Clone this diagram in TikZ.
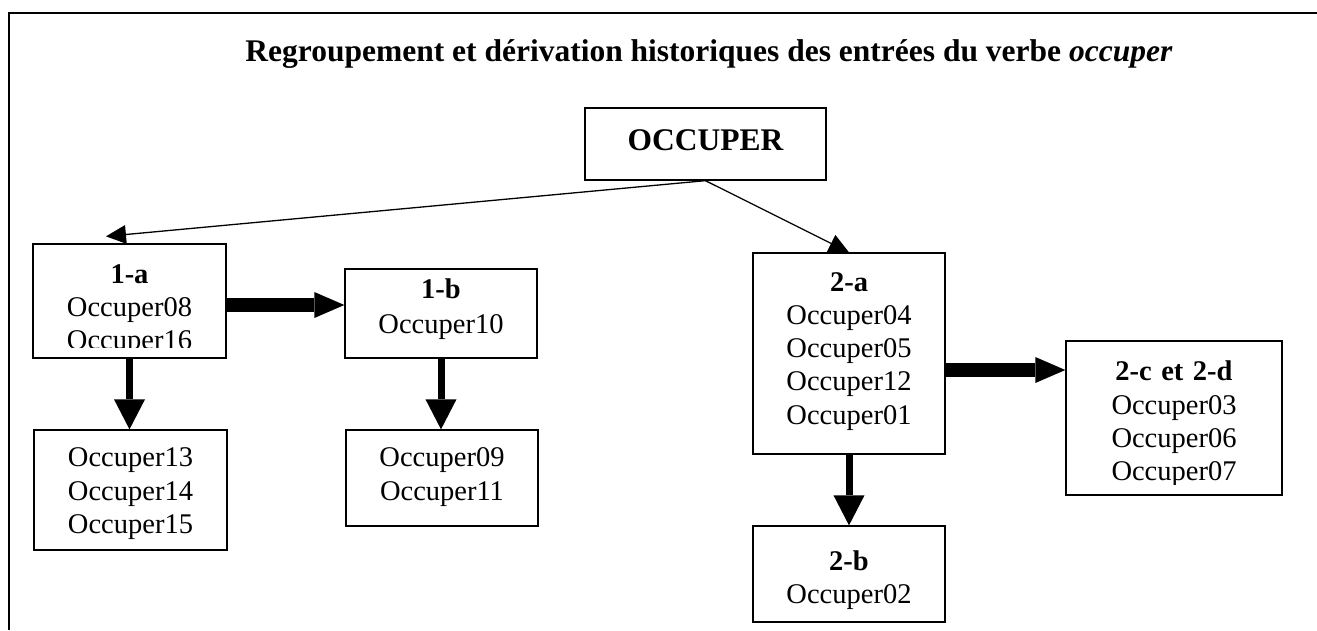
\documentclass[tikz,border=0pt]{standalone}
\usepackage{fontspec}
\setmainfont{Liberation Serif}
\usetikzlibrary{arrows.meta,calc}
\begin{document}
\begin{tikzpicture}[x=1pt,y=-1pt,
  box/.style={draw,line width=1.3pt,inner sep=0pt,rectangle},
  txt/.style={font=\fontsize{28.5}{33.3}\selectfont, align=center, text width=210pt, inner sep=0pt, anchor=base},
  big/.style={font=\bfseries\fontsize{31.5}{36}\selectfont, inner sep=0pt, anchor=base},
  thinarrow/.style={line width=1.3pt, -{Triangle[length=20pt,width=19pt,line width=0pt]}},
  vthick/.style={line width=7pt, -{Triangle[length=30pt,width=31pt,line width=0pt]}},
  hthick/.style={line width=14pt, -{Triangle[length=30pt,width=26pt,line width=0pt]}},
]
\useasboundingbox (0,0) rectangle (1317,630);
% frame
\draw[line width=1.5pt] (9,630) -- (9,13) -- (1317,13);
% title
\node[big] (title) at (709,61.5) {Regroupement et dérivation historiques des entrées du verbe \textit{occuper}};
% boxes
\node[box, minimum width=241pt, minimum height=72pt] (occ) at (705.5,144) {};
\node[big] (occt) at (705.5,150) {OCCUPER};
\node[box, minimum width=193pt, minimum height=114pt] (a1) at (129.5,301) {};
\node[box, minimum width=192pt, minimum height=89pt] (b1) at (441,313.5) {};
\node[box, minimum width=193pt, minimum height=120pt] (c1) at (130.5,490) {};
\node[box, minimum width=192pt, minimum height=96pt] (d1) at (442,478) {};
\node[box, minimum width=192pt, minimum height=201pt] (a2) at (849,353.5) {};
\node[box, minimum width=192pt, minimum height=96pt] (b2) at (849,574) {};
\node[box, minimum width=216pt, minimum height=154pt] (c2) at (1174,418) {};
% texts
\begin{scope}
\clip (34,245) rectangle (226,347.7);
\node[txt] (a1t) at (129.5,283.3) {\textbf{1-a}\\Occuper08\\Occuper16};
\end{scope}
\node[txt] (b1t) at (441,298.5) {\textbf{1-b}\\[2pt]Occuper10};
\node[txt] (c1t) at (130.5,466.7) {Occuper13\\Occuper14\\Occuper15};
\node[txt] (d1t) at (442,466.7) {Occuper09\\Occuper11};
\node[txt] (a2t) at (849,291) {\textbf{2-a}\\Occuper04\\Occuper05\\Occuper12\\Occuper01};
\node[txt] (b2t) at (849,570) {\textbf{2-b}\\Occuper02};
\begin{scope}
\clip (1067,342) rectangle (1281,484);
\node[txt] (c2t) at (1174,380.7) {\textbf{2-c et 2-d}\\Occuper03\\Occuper06\\Occuper07};
\end{scope}
% connectors
\coordinate (tipa1) at ($(a1.north)+(-23.5,-7)$);
\draw[thinarrow] (occ.south) -- (tipa1);
\draw[thinarrow] (occ.south) -- (a2.north);
\draw[hthick] ([yshift=-4pt]a1.east) -- ([yshift=-4pt]a1.east -| b1.west);
\draw[vthick] (a1.south) -- (a1.south |- c1.north);
\draw[vthick] (b1.south) -- (b1.south |- d1.north);
\draw[hthick] ([yshift=-16.5pt]a2.east) -- ([yshift=-16.5pt]a2.east -| c2.west);
\draw[vthick] (a2.south) -- (b2.north);
\end{tikzpicture}
\end{document}
